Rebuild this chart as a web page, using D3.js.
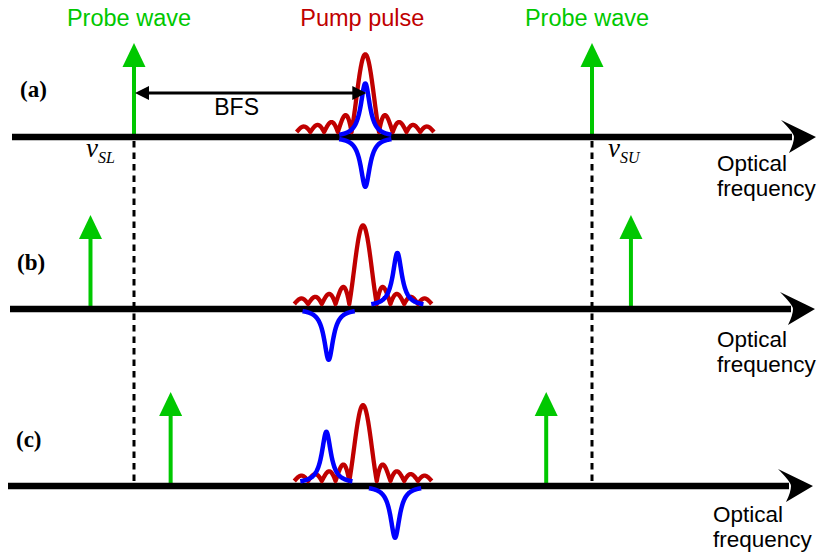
<!DOCTYPE html>
<html>
<head>
<meta charset="utf-8">
<script src="https://cdn.jsdelivr.net/npm/d3@7"></script>
<style>
  html, body { margin: 0; padding: 0; background: #fff; }
  svg { display: block; }
</style>
</head>
<body>
<script>
// Brillouin scheme: probe waves, pump pulse spectrum and the Brillouin gain/loss
// bands in three detuning cases. Frequencies are in units of the BFS, measured
// from the pump frequency; amplitudes are relative to the probe height.
const panels        = ["(a)", "(b)", "(c)"];
const probeLower    = [-1.00, -1.19, -0.84];
const probeUpper    = [ 1.00,  1.17,  0.80];
const pumpCenter    = [ 0.01,  0.00,  0.00];
const pumpPeak      = [ 0.88,  0.89,  0.86];
const gainCenter    = [ 0.01,  0.15, -0.16];
const gainHeight    = [ 0.57,  0.57,  0.55];
const lossCenter    = [ 0.01, -0.15,  0.14];
const lossDepth     = [ 0.53,  0.54,  0.55];
const markerFreqs   = [-1, 1];            // ν_SL and ν_SU reference lines
const markerLabels  = ["SL", "SU"];
const topTitles     = ["Probe wave", "Pump pulse", "Probe wave"];
const axisTitle     = ["Optical", "frequency"];

// spectral shape parameters (BFS units)
const pumpLobe   = 0.060;  // zero spacing of the pump sinc spectrum
const pumpLobes  = 5;      // drawn out to ±5 zeros
const pumpFloor  = 0.053;  // pump trace sits on top of the axis stroke
const brillWidth = 0.024;  // Lorentzian half width
const brillSpan  = 0.114;  // drawn half span of each band

const W = 823, H = 556;
const GREEN = "#00c800", RED = "#c00000", BLUE = "#0000ff";
const SANS = "'Liberation Sans', Arial, sans-serif";
const SERIF = "'Liberation Serif', 'Times New Roman', serif";

// layout of the three rows
const rowY     = [137, 309, 486];
const rowLeft  = [12, 10, 8];
const rowTip   = [816, 815, 813];
const unitPx   = 94;

const x = d3.scaleLinear().domain([-1, 1]).range([134, 592]);
const yFor = i => d3.scaleLinear().domain([0, 1]).range([rowY[i], rowY[i] - unitPx]);

const svg = d3.select("body").append("svg")
  .attr("width", W).attr("height", H)
  .attr("viewBox", `0 0 ${W} ${H}`);

// titles along the top
const titleX = [probeLower[0], pumpCenter[0], probeUpper[0]];
svg.selectAll("text.title").data(topTitles).join("text")
  .attr("class", "title")
  .attr("x", (d, i) => x(titleX[i]) + [-5, -3, -5][i])
  .attr("y", 26)
  .attr("text-anchor", "middle")
  .attr("font-family", SANS).attr("font-size", 23.5)
  .attr("fill", (d, i) => i === 1 ? RED : GREEN)
  .text(d => d);

// dashed reference lines at ν_SL and ν_SU
svg.selectAll("line.ref").data(markerFreqs).join("line")
  .attr("class", "ref")
  .attr("x1", d => x(d)).attr("x2", d => x(d))
  .attr("y1", rowY[0] + 4).attr("y2", rowY[2] + 3)
  .attr("stroke", "#000").attr("stroke-width", 3)
  .attr("stroke-dasharray", "6.5 5");

// sampled spectra
function sincAbs(u) {
  if (Math.abs(u) < 1e-9) return 1;
  return Math.abs(Math.sin(Math.PI * u) / (Math.PI * u));
}
function pumpPoints(i) {
  const n = 600, pts = [];
  for (let k = 0; k <= n; k++) {
    const u = -pumpLobes + 2 * pumpLobes * k / n;
    pts.push([pumpCenter[i] + u * pumpLobe, pumpFloor + (pumpPeak[i] - pumpFloor) * sincAbs(u)]);
  }
  return pts;
}
function lorentz(c, h) {
  const n = 200, pts = [];
  for (let k = 0; k <= n; k++) {
    const f = c - brillSpan + 2 * brillSpan * k / n;
    const d = (f - c) / brillWidth;
    pts.push([f, h / (1 + d * d)]);
  }
  return pts;
}

panels.forEach((label, i) => {
  const y = yFor(i);
  const g = svg.append("g").attr("class", "row");
  const line = d3.line().x(d => x(d[0])).y(d => y(d[1])).curve(d3.curveLinear);

  // probe arrows
  [probeLower[i], probeUpper[i]].forEach(f => {
    const px = x(f), top = y(1), headH = 24, headW = 11.5;
    g.append("line")
      .attr("x1", px).attr("x2", px)
      .attr("y1", y(0)).attr("y2", top + headH - 1)
      .attr("stroke", GREEN).attr("stroke-width", 4);
    g.append("path")
      .attr("d", `M${px},${top} L${px + headW},${top + headH} L${px - headW},${top + headH} Z`)
      .attr("fill", GREEN);
  });

  // frequency axis with arrowhead
  const tip = rowTip[i], ay = rowY[i];
  g.append("line")
    .attr("x1", rowLeft[i]).attr("x2", tip - 24)
    .attr("y1", ay).attr("y2", ay)
    .attr("stroke", "#000").attr("stroke-width", 6.5);
  g.append("path")
    .attr("d", `M${tip},${ay} L${tip - 35},${ay - 17} Q${tip - 22},${ay - 4} ${tip - 22},${ay} Q${tip - 22},${ay + 6} ${tip - 27},${ay + 16} Z`)
    .attr("fill", "#000");

  // pump spectrum
  g.append("path")
    .attr("d", line(pumpPoints(i)))
    .attr("fill", "none").attr("stroke", RED).attr("stroke-width", 4.3)
    .attr("stroke-linejoin", "round");

  // Brillouin gain (up) and loss (down)
  g.append("path")
    .attr("d", line(lorentz(gainCenter[i], gainHeight[i])))
    .attr("transform", i === 0 ? null : "translate(0,-2.5)")
    .attr("fill", "none").attr("stroke", BLUE).attr("stroke-width", 4.5)
    .attr("stroke-linejoin", "round");
  g.append("path")
    .attr("d", line(lorentz(lossCenter[i], -lossDepth[i])))
    .attr("fill", "none").attr("stroke", BLUE).attr("stroke-width", 4.5)
    .attr("stroke-linejoin", "round");

  // row label
  g.append("text")
    .attr("x", [20, 17, 16][i]).attr("y", [97, 270, 447][i])
    .attr("font-family", SERIF).attr("font-weight", "bold").attr("font-size", 23)
    .text(label);

  // axis title
  const ox = [717, 717, 713][i];
  const oy = [171, 347, 522][i];
  g.append("text").attr("x", ox).attr("y", oy)
    .attr("font-family", SANS).attr("font-size", 22.5).text(axisTitle[0]);
  g.append("text").attr("x", ox).attr("y", oy + 25)
    .attr("font-family", SANS).attr("font-size", 22.5).text(axisTitle[1]);
});

// ν_SL / ν_SU labels under the first axis
markerFreqs.forEach((f, k) => {
  const t = svg.append("text")
    .attr("x", x(f) + (k === 0 ? -48 : 16)).attr("y", 157)
    .attr("font-family", SERIF).attr("font-style", "italic").attr("font-size", 27);
  t.append("tspan").text("v");
  t.append("tspan").attr("font-size", 16).attr("dy", 6).text(markerLabels[k]);
});

// BFS double arrow between the lower probe and the gain peak
const by = 93, bx1 = x(probeLower[0]) + 1, bx2 = x(gainCenter[0]) + 1;
svg.append("line")
  .attr("x1", bx1 + 10).attr("x2", bx2 - 10).attr("y1", by).attr("y2", by)
  .attr("stroke", "#000").attr("stroke-width", 3);
svg.append("path").attr("d", `M${bx1},${by} L${bx1 + 14},${by - 7} L${bx1 + 14},${by + 7} Z`).attr("fill", "#000");
svg.append("path").attr("d", `M${bx2},${by} L${bx2 - 14},${by - 7} L${bx2 - 14},${by + 7} Z`).attr("fill", "#000");
svg.append("text")
  .attr("x", (bx1 + bx2) / 2 - 14).attr("y", 115)
  .attr("text-anchor", "middle")
  .attr("font-family", SANS).attr("font-size", 23)
  .text("BFS");
</script>
</body>
</html>
